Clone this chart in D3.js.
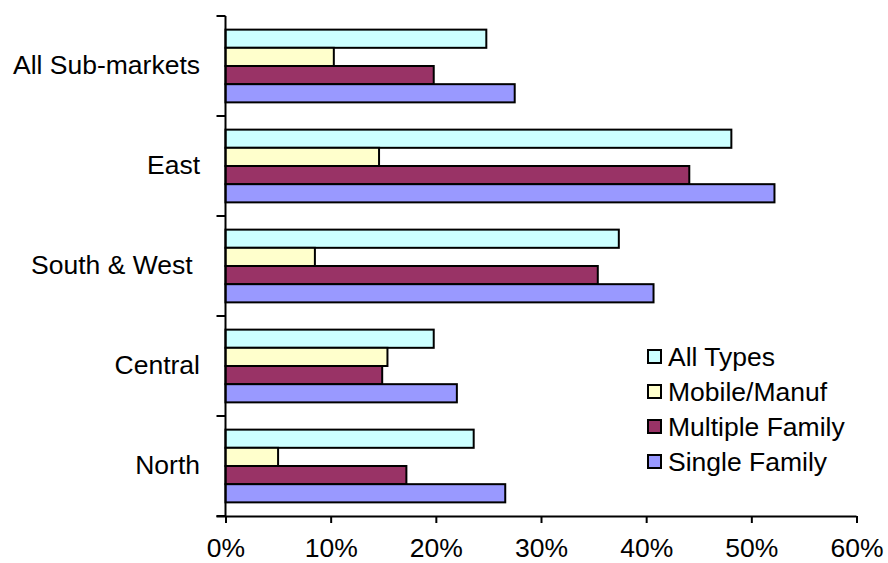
<!DOCTYPE html>
<html>
<head>
<meta charset="utf-8">
<script src="https://cdn.jsdelivr.net/npm/d3@7"></script>
<style>
  html, body { margin: 0; padding: 0; background: #fff; }
  svg { display: block; font-family: "Liberation Sans", Arial, sans-serif; }
</style>
</head>
<body>
<svg id="chart" width="888" height="563"></svg>
<script>
// Sub-markets, top to bottom
const categories = ["All Sub-markets", "East", "South & West ", "Central", "North"];
// Housing types, drawn top to bottom inside each group
const seriesNames = ["All Types", "Mobile/Manuf", "Multiple Family", "Single Family"];
const seriesColors = ["#CCFFFF", "#FFFFCC", "#993366", "#9999FF"];
// Share values (%) per series, in category order
const allTypes       = [24.8, 48.1, 37.4, 19.8, 23.6];
const mobileManuf    = [10.3, 14.6,  8.5, 15.4,  5.0];
const multipleFamily = [19.8, 44.1, 35.4, 14.9, 17.2];
const singleFamily   = [27.5, 52.2, 40.7, 22.0, 26.6];
const seriesValues = [allTypes, mobileManuf, multipleFamily, singleFamily];
const xTicks = [0, 10, 20, 30, 40, 50, 60];

const FONT = 26.5;
const svg = d3.select("#chart");
const plot = { left: 225.5, right: 856.5, top: 16, bottom: 516 };

const x = d3.scaleLinear().domain([0, 60]).range([plot.left, plot.right]);
const y = d3.scaleBand().domain(categories).range([plot.top, plot.bottom]);
// Bar thickness follows a 150% gap width: band = 4 bars + 1.5 bars
const inner = d3.scaleBand().domain(seriesNames)
  .range([0, y.bandwidth()]).paddingOuter(0.75).paddingInner(0);

// Bars
const groups = svg.append("g").selectAll("g")
  .data(categories)
  .join("g")
  .attr("transform", d => `translate(0,${y(d)})`);

groups.selectAll("rect")
  .data((c, i) => seriesNames.map((s, k) => ({ s, k, v: seriesValues[k][i] })))
  .join("rect")
  .attr("x", x(0))
  .attr("y", d => inner(d.s))
  .attr("width", d => x(d.v) - x(0))
  .attr("height", inner.bandwidth())
  .attr("fill", d => seriesColors[d.k])
  .attr("stroke", "#000")
  .attr("stroke-width", 2);

// X axis
const xAxis = svg.append("g")
  .attr("transform", `translate(0,${plot.bottom})`)
  .call(d3.axisBottom(x).tickValues(xTicks).tickFormat(d => d + "%").tickSize(7).tickPadding(15));
xAxis.select(".domain").attr("stroke", "#000").attr("stroke-width", 2)
  .attr("d", `M${plot.left - 9},0.5H${plot.right}`);
xAxis.selectAll(".tick line").attr("stroke", "#000").attr("stroke-width", 2);
xAxis.selectAll(".tick text").attr("font-size", FONT).attr("fill", "#000")
  .attr("font-family", "'Liberation Sans', Arial, sans-serif");

// Y axis: ticks on group boundaries, labels centred in each band
const boundaries = d3.range(categories.length + 1).map(i => plot.top + i * y.step());
const yAxis = svg.append("g");
yAxis.append("line")
  .attr("x1", plot.left).attr("x2", plot.left)
  .attr("y1", plot.top).attr("y2", plot.bottom)
  .attr("stroke", "#000").attr("stroke-width", 2);
yAxis.selectAll("line.tick")
  .data(boundaries)
  .join("line")
  .attr("class", "tick")
  .attr("x1", plot.left - 9).attr("x2", plot.left)
  .attr("y1", d => d).attr("y2", d => d)
  .attr("stroke", "#000").attr("stroke-width", 2);
yAxis.selectAll("text")
  .data(categories)
  .join("text")
  .attr("x", 200)
  .attr("y", d => y(d) + y.bandwidth() / 2)
  .attr("dy", "0.32em")
  .attr("text-anchor", "end")
  .attr("font-size", FONT)
  .style("white-space", "pre")
  .attr("xml:space", "preserve")
  .text(d => d);

// Legend
const legend = svg.append("g").attr("transform", "translate(648,350)");
const rows = legend.selectAll("g")
  .data(seriesNames)
  .join("g")
  .attr("transform", (d, i) => `translate(0,${i * 35})`);
rows.append("rect")
  .attr("x", 0).attr("y", 0)
  .attr("width", 13).attr("height", 13)
  .attr("fill", (d, i) => seriesColors[i])
  .attr("stroke", "#000").attr("stroke-width", 2);
rows.append("text")
  .attr("x", 20).attr("y", 6.5)
  .attr("dy", "0.35em")
  .attr("font-size", FONT)
  .text(d => d);
</script>
</body>
</html>
